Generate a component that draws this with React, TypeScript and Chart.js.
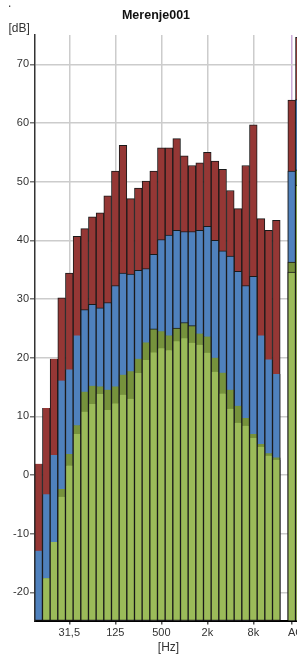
import React, { useEffect, useRef } from "react";
import { Chart, registerables } from "chart.js";

Chart.register(...registerables);

const TITLE = "Merenje001";
const Y_LABEL = "[dB]";
const X_LABEL = "[Hz]";

const BANDS = [
  "12,5", "16", "20", "25", "31,5", "40", "50", "63", "80", "100", "125", "160",
  "200", "250", "315", "400", "500", "630", "800", "1k", "1,25k", "1,6k", "2k",
  "2,5k", "3,15k", "4k", "5k", "6,3k", "8k", "10k", "12,5k", "16k", "20k", "A", "C",
];
const X_TICK_INDEX = [4, 10, 16, 22, 28, 33, 34];
const Y_TICKS = [-20, -10, 0, 10, 20, 30, 40, 50, 60, 70];
const Y_MIN = -24.8;
const Y_MAX = 75;
const X_MIN = -0.473;
const X_MAX = 35.52;

// max (red)
const RED = [
  1.9, 11.4, 19.8, 30.2, 34.4, 40.7, 42.0, 44.0, 44.7, 47.6, 51.8, 56.2, 47.1,
  48.9, 50.1, 51.8, 55.75, 55.75, 57.35, 54.4, 52.75, 53.2, 55.0, 53.5, 52.1,
  48.5, 45.4, 52.75, 59.7, 43.7, 41.7, 43.4, null, 63.9, 74.6,
];
// blue
const BLUE = [
  -12.9, -3.3, 3.4, 16.1, 18.0, 23.8, 28.2, 29.1, 28.5, 29.4, 32.3, 34.4, 34.25,
  34.9, 35.2, 37.6, 40.15, 40.9, 41.7, 41.5, 41.5, 41.7, 42.4, 40.0, 38.2, 37.3,
  34.7, 32.3, 33.85, 23.8, 19.7, 17.2, null, 51.8, 64.0,
];
// dark green
const DARK_GREEN = [
  null, -17.6, -11.4, -2.4, 3.6, 8.5, 14.2, 15.2, 15.1, 14.55, 15.1, 17.1, 17.7,
  19.8, 22.6, 24.9, 24.5, 23.8, 25.05, 26.0, 25.45, 24.1, 23.6, 20.0, 17.45,
  14.55, 11.8, 9.7, 7.0, 5.3, 3.7, 3.0, null, 36.3, 52.0,
];
// light green (min)
const LIGHT_GREEN = [
  null, -17.6, -11.4, -3.7, 1.6, 7.0, 10.8, 12.1, 13.8, 11.1, 12.2, 13.7, 13.0,
  17.4, 19.6, 20.9, 21.6, 21.25, 22.8, 23.3, 22.55, 22.2, 20.85, 17.6, 13.9,
  11.3, 8.9, 8.4, 6.3, 4.8, 3.3, 2.6, null, 34.6, 49.4,
];

const toBars = (vals: (number | null)[]) =>
  vals
    .map((v, i) => (v === null ? null : { x: i, y: [Y_MIN, v] }))
    .filter((p) => p !== null);

const FONT = "'Liberation Sans', Arial, sans-serif";

const textPlugin = {
  id: "texts",
  afterDraw(chart: any) {
    const ctx = chart.ctx;
    ctx.save();
    ctx.fillStyle = "#111";
    ctx.font = `bold 12.5px ${FONT}`;
    ctx.textAlign = "center";
    ctx.textBaseline = "alphabetic";
    ctx.fillText(TITLE, 156, 18.5);
    ctx.fillStyle = "#333";
    ctx.font = `12px ${FONT}`;
    ctx.textAlign = "left";
    ctx.fillText(Y_LABEL, 8.5, 31.5);
    ctx.textAlign = "center";
    ctx.fillText(X_LABEL, 168.5, 651);
    ctx.textAlign = "left";
    ctx.fillText(".", 8, 6.5);
    ctx.restore();
  },
};

export default function App() {
  const ref = useRef<HTMLCanvasElement | null>(null);
  useEffect(() => {
    if (!ref.current) return;
    const mk = (label: string, vals: (number | null)[], color: string, border: string) => ({
      label,
      data: toBars(vals),
      backgroundColor: color,
      borderColor: border,
      borderWidth: 1,
      borderSkipped: "start",
      grouped: false,
      barPercentage: 1,
      categoryPercentage: 1,
      clip: 0,
    });
    const chart = new Chart(ref.current, {
      type: "bar",
      data: {
        datasets: [
          mk("min", LIGHT_GREEN, "#9BBB59", "#1a1a1a"),
          mk("l2", DARK_GREEN, "#76923C", "#1a1a1a"),
          mk("l1", BLUE, "#4F81BD", "#1a1a1a"),
          mk("max", RED, "#953735", "#1a1a1a"),
        ] as any,
      },
      options: {
        animation: false,
        responsive: false,
        layout: { padding: { top: 35, left: 0, right: 1, bottom: 0 } },
        plugins: { legend: { display: false }, title: { display: false }, tooltip: { enabled: false } },
        scales: {
          x: {
            type: "linear",
            min: X_MIN,
            max: X_MAX,
            offset: false,
            afterBuildTicks: (s: any) => {
              s.ticks = X_TICK_INDEX.map((v) => ({ value: v }));
            },
            afterFit: (s: any) => {
              s.height = 33.5;
            },
            ticks: {
              autoSkip: false,
              maxRotation: 0,
              padding: 2,
              color: "#333",
              font: { family: FONT, size: 11 },
              callback: (v: any) => BANDS[Math.round(Number(v))] ?? "",
            },
            grid: {
              offset: false,
              color: (c: any) => (c.tick && c.tick.value === 33 ? "rgba(190,150,205,0.8)" : "#cccccc"),
              lineWidth: 1.5,
              tickLength: 4,
              tickColor: "#555",
            },
            border: { display: true, color: "#000", width: 2 },
          },
          y: {
            type: "linear",
            min: Y_MIN,
            max: Y_MAX,
            afterBuildTicks: (s: any) => {
              s.ticks = Y_TICKS.map((v) => ({ value: v }));
            },
            afterFit: (s: any) => {
              s.width = 35;
            },
            ticks: {
              padding: 1,
              color: "#333",
              font: { family: FONT, size: 11 },
            },
            grid: {
              color: "#cccccc",
              lineWidth: 1.5,
              tickLength: 5,
              tickColor: "#777",
            },
            border: { display: true, color: "#333", width: 1.5 },
          },
        },
      } as any,
      plugins: [textPlugin],
    });
    return () => chart.destroy();
  }, []);
  return (
    <div
      style={{
        position: "absolute",
        left: 0,
        top: 0,
        width: 297,
        height: 654,
        overflow: "hidden",
        background: "#fff",
      }}
    >
      <canvas ref={ref} width={312} height={654} style={{ width: 312, height: 654, display: "block" }} />
    </div>
  );
}
